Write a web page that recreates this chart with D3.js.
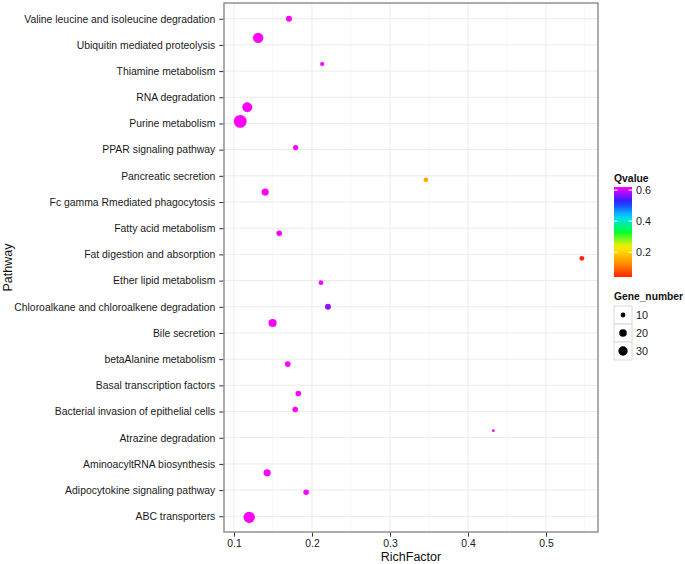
<!DOCTYPE html>
<html>
<head>
<meta charset="utf-8">
<script src="https://cdn.jsdelivr.net/npm/d3@7"></script>
<style>
  html, body { margin: 0; padding: 0; background: #fff; }
  svg { display: block; font-family: "Liberation Sans", Arial, Helvetica, sans-serif; }
</style>
</head>
<body>
<svg id="chart" width="685" height="564"></svg>
<script>
// ---------- data (top to bottom) ----------
const pathways = [
  "Valine leucine and isoleucine degradation",
  "Ubiquitin mediated proteolysis",
  "Thiamine metabolism",
  "RNA degradation",
  "Purine metabolism",
  "PPAR signaling pathway",
  "Pancreatic secretion",
  "Fc gamma Rmediated phagocytosis",
  "Fatty acid metabolism",
  "Fat digestion and absorption",
  "Ether lipid metabolism",
  "Chloroalkane and chloroalkene degradation",
  "Bile secretion",
  "betaAlanine metabolism",
  "Basal transcription factors",
  "Bacterial invasion of epithelial cells",
  "Atrazine degradation",
  "AminoacyltRNA biosynthesis",
  "Adipocytokine signaling pathway",
  "ABC transporters"
];
const richFactor = [0.1705, 0.131, 0.213, 0.117, 0.108, 0.179, 0.346, 0.140, 0.158, 0.546,
                    0.2115, 0.2205, 0.1495, 0.169, 0.1825, 0.1785, 0.4325, 0.1425, 0.1925, 0.1195];
const geneNumber = [13, 38, 9, 34, 60, 11, 10, 18, 12, 10,
                    10, 13, 23, 12, 12, 12, 8, 18, 12, 46];
const qvalue = [0.62, 0.62, 0.62, 0.62, 0.62, 0.62, 0.16, 0.62, 0.62, 0.04,
                0.62, 0.57, 0.62, 0.62, 0.62, 0.62, 0.62, 0.62, 0.62, 0.62];
// vertical jitter of each point, in units of one category step (positive = up)
const jitter = [0, 0.27, 0.27, -0.38, 0.08, 0.08, -0.15, 0.38, -0.19, -0.15,
                -0.08, 0, 0.38, -0.19, -0.31, 0.08, 0.27, -0.34, -0.08, -0.04];
const xTicks = [0.1, 0.2, 0.3, 0.4, 0.5];
const xMinor = [0.15, 0.25, 0.35, 0.45, 0.55];
const qTicks = [0.2, 0.4, 0.6];
const sizeBreaks = [10, 20, 30];
const rainbow = ["#FF2200", "#FF9900", "#FFEE00", "#00FF33", "#00DDFF", "#2222FF", "#FF00FF"];

// ---------- layout ----------
const svg = d3.select("#chart");
const P = { left: 224, right: 598, top: 3, bottom: 532 };
const FS = 10.4;

const x = d3.scaleLinear().domain([0.0872, 0.5667]).range([P.left, P.right]);
const y = d3.scalePoint().domain(pathways).range([P.top, P.bottom]).padding(0.6);

const qMin = d3.min(qvalue), qMax = d3.max(qvalue);
const color = d3.scaleLinear()
  .domain(rainbow.map((c, i) => qMin + i * (qMax - qMin) / (rainbow.length - 1)))
  .range(rainbow).interpolate(d3.interpolateRgb).clamp(true);

const gMin = d3.min(geneNumber), gMax = d3.max(geneNumber);
const rScale = d3.scalePow().exponent(0.5).domain([0, gMax - gMin]).range([1.4, 6.4]);
const radius = v => rScale(Math.max(0, v - gMin));

// panel background
svg.append("rect").attr("x", P.left).attr("y", P.top)
  .attr("width", P.right - P.left).attr("height", P.bottom - P.top).attr("fill", "#fff");

// minor grid
svg.append("g").selectAll("line").data(xMinor).join("line")
  .attr("x1", d => x(d)).attr("x2", d => x(d)).attr("y1", P.top).attr("y2", P.bottom)
  .attr("stroke", "#f6f6f6").attr("stroke-width", 1);
// major grid
svg.append("g").selectAll("line").data(xTicks).join("line")
  .attr("x1", d => x(d)).attr("x2", d => x(d)).attr("y1", P.top).attr("y2", P.bottom)
  .attr("stroke", "#ebebeb").attr("stroke-width", 1);
svg.append("g").selectAll("line").data(pathways).join("line")
  .attr("x1", P.left).attr("x2", P.right).attr("y1", d => y(d)).attr("y2", d => y(d))
  .attr("stroke", "#ebebeb").attr("stroke-width", 1);

// points
const pts = pathways.map((p, i) => ({ p, rf: richFactor[i], g: geneNumber[i], q: qvalue[i], j: jitter[i] }));
svg.append("g").selectAll("circle").data(pts).join("circle")
  .attr("cx", d => x(d.rf))
  .attr("cy", d => y(d.p) - d.j * y.step())
  .attr("r", d => radius(d.g))
  .attr("fill", d => color(d.q));

// panel border
svg.append("rect").attr("x", P.left).attr("y", P.top)
  .attr("width", P.right - P.left).attr("height", P.bottom - P.top)
  .attr("fill", "none").attr("stroke", "#8a8a8a").attr("stroke-width", 1.4);

// axes
const xAxis = svg.append("g").attr("transform", `translate(0,${P.bottom + 0.7})`)
  .call(d3.axisBottom(x).tickValues(xTicks).tickFormat(d3.format(".1f")).tickSize(4).tickPadding(3));
const yAxis = svg.append("g").attr("transform", `translate(${P.left - 0.7},0)`)
  .call(d3.axisLeft(y).tickSize(4).tickPadding(4));
[xAxis, yAxis].forEach(a => {
  a.select(".domain").remove();
  a.selectAll(".tick line").attr("stroke", "#333").attr("stroke-width", 1);
  a.selectAll(".tick text").attr("fill", "#1a1a1a").attr("font-size", FS)
    .attr("font-family", "'Liberation Sans', Arial, sans-serif");
});

// axis titles
svg.append("text").attr("x", (P.left + P.right) / 2).attr("y", 561)
  .attr("text-anchor", "middle").attr("font-size", 12.5).attr("fill", "#111").text("RichFactor");
svg.append("text").attr("transform", `translate(12,${(P.top + P.bottom) / 2}) rotate(-90)`)
  .attr("text-anchor", "middle").attr("font-size", 12.5).attr("fill", "#111").text("Pathway");

// ---------- legends ----------
const L = { x: 614, w: 18 };
// Qvalue colorbar
svg.append("text").attr("x", L.x).attr("y", 182).attr("font-size", FS).attr("font-weight", "bold")
  .attr("fill", "#111").text("Qvalue");
const barTop = 187, barBot = 277;
const qy = d3.scaleLinear().domain([qMin, qMax]).range([barBot, barTop]);
const defs = svg.append("defs");
const grad = defs.append("linearGradient").attr("id", "qgrad")
  .attr("x1", 0).attr("y1", 1).attr("x2", 0).attr("y2", 0);
d3.range(0, 1.0001, 0.05).forEach(t => {
  grad.append("stop").attr("offset", t).attr("stop-color", color(qMin + t * (qMax - qMin)));
});
svg.append("rect").attr("x", L.x).attr("y", barTop).attr("width", L.w).attr("height", barBot - barTop)
  .attr("fill", "url(#qgrad)");
const qt = svg.append("g").selectAll("g").data(qTicks).join("g");
qt.append("line").attr("x1", L.x).attr("x2", L.x + 3.6).attr("y1", d => qy(d)).attr("y2", d => qy(d))
  .attr("stroke", "#fff").attr("stroke-width", 1);
qt.append("line").attr("x1", L.x + L.w - 3.6).attr("x2", L.x + L.w).attr("y1", d => qy(d)).attr("y2", d => qy(d))
  .attr("stroke", "#fff").attr("stroke-width", 1);
qt.append("text").attr("x", L.x + L.w + 4).attr("y", d => qy(d)).attr("dy", "0.35em")
  .attr("font-size", FS + 0.4).attr("fill", "#1a1a1a").text(d => d3.format(".1f")(d));

// Gene_number size legend
svg.append("text").attr("x", L.x).attr("y", 300).attr("font-size", 10).attr("font-weight", "bold")
  .attr("fill", "#111").attr("textLength", 69).attr("lengthAdjust", "spacingAndGlyphs").text("Gene_number");
const keyH = 18, keyTop = 306;
const sk = svg.append("g").selectAll("g").data(sizeBreaks).join("g")
  .attr("transform", (d, i) => `translate(${L.x},${keyTop + i * keyH})`);
sk.append("rect").attr("width", L.w).attr("height", keyH).attr("fill", "#fff")
  .attr("stroke", "#d9d9d9").attr("stroke-width", 1);
sk.append("circle").attr("cx", L.w / 2).attr("cy", keyH / 2).attr("r", d => radius(d)).attr("fill", "#000");
sk.append("text").attr("x", L.w + 4).attr("y", keyH / 2).attr("dy", "0.35em")
  .attr("font-size", FS + 0.4).attr("fill", "#1a1a1a").text(d => d);
</script>
</body>
</html>
